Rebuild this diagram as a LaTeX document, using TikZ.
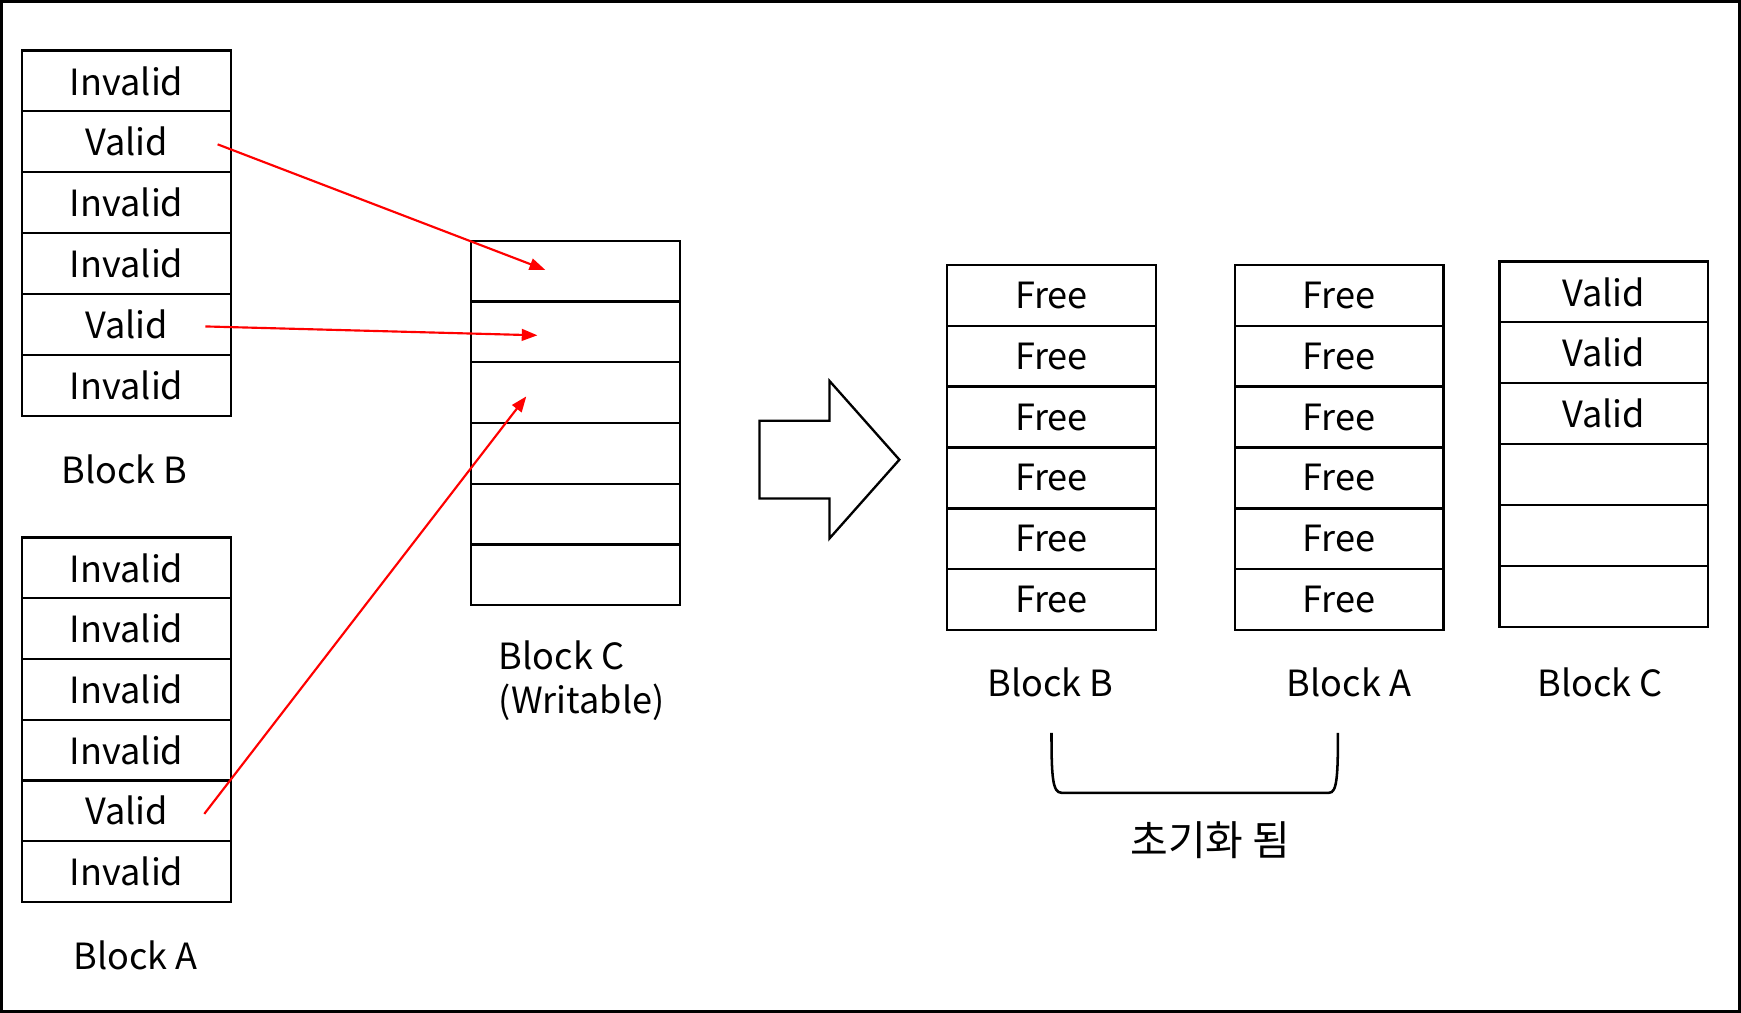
\documentclass[tikz,border=0pt]{standalone}
\usepackage{fontspec}
\setmainfont{Noto Sans CJK KR}
\usetikzlibrary{arrows.meta}
\begin{document}
\begin{tikzpicture}[x=0.02cm, y=-0.02cm, font=\fontsize{18.5}{22.5}\selectfont]
\tikzstyle{cell_style} = [rectangle, draw=black, line width=1.1pt, minimum width=3.76cm, minimum height=1.096cm, inner sep=0pt]
\tikzstyle{move_style} = [draw=red, line width=1.1pt, -{Triangle[length=8pt, width=6pt]}]
\tikzstyle{label_style} = [inner sep=0pt, align=left]

\useasboundingbox (0,0) rectangle (1568,912);
\draw[line width=1.5pt] (1.3,1.3) rectangle (1566.7,910.7);

% before: block B
\node[cell_style] (lb1) at (114,72.9) {Invalid};
\node[cell_style] (lb2) at (114,127.7) {Valid};
\node[cell_style] (lb3) at (114,182.5) {Invalid};
\node[cell_style] (lb4) at (114,237.3) {Invalid};
\node[cell_style] (lb5) at (114,292.1) {Valid};
\node[cell_style] (lb6) at (114,346.9) {Invalid};
\node[label_style] (lbl_lb) at (112,423) {Block B};

% before: block A
\node[cell_style] (la1) at (114,511.5) {Invalid};
\node[cell_style] (la2) at (114,566.2) {Invalid};
\node[cell_style] (la3) at (114,620.9) {Invalid};
\node[cell_style] (la4) at (114,675.5) {Invalid};
\node[cell_style] (la5) at (114,730.2) {Valid};
\node[cell_style] (la6) at (114,784.9) {Invalid};
\node[label_style] (lbl_la) at (122,860) {Block A};

% before: block C
\node[cell_style] (wc1) at (518.5,244.3) {};
\node[cell_style] (wc2) at (518.5,299.0) {};
\node[cell_style] (wc3) at (518.5,353.7) {};
\node[cell_style] (wc4) at (518.5,408.3) {};
\node[cell_style] (wc5) at (518.5,463.0) {};
\node[cell_style] (wc6) at (518.5,517.7) {};
\node[label_style, anchor=west] (lbl_wc) at (449,613) {Block C\\(Writable)};

% big arrow
\draw[line width=1.2pt] (684,379) -- (747,379) -- (747,343) -- (810,414) -- (747,485) -- (747,449) -- (684,449) -- cycle;

% after: block B
\node[cell_style] (rb1) at (947,265.9) {Free};
\node[cell_style] (rb2) at (947,320.7) {Free};
\node[cell_style] (rb3) at (947,375.6) {Free};
\node[cell_style] (rb4) at (947,430.4) {Free};
\node[cell_style] (rb5) at (947,485.3) {Free};
\node[cell_style] (rb6) at (947,540.1) {Free};
\node[label_style] (lbl_rb) at (946,615) {Block B};

% after: block A
\node[cell_style] (ra1) at (1206,265.9) {Free};
\node[cell_style] (ra2) at (1206,320.7) {Free};
\node[cell_style] (ra3) at (1206,375.6) {Free};
\node[cell_style] (ra4) at (1206,430.4) {Free};
\node[cell_style] (ra5) at (1206,485.3) {Free};
\node[cell_style] (ra6) at (1206,540.1) {Free};
\node[label_style] (lbl_ra) at (1215,615) {Block A};

% after: block C
\node[cell_style] (rc1) at (1444.5,262.9) {Valid};
\node[cell_style] (rc2) at (1444.5,317.7) {Valid};
\node[cell_style] (rc3) at (1444.5,372.6) {Valid};
\node[cell_style] (rc4) at (1444.5,427.4) {};
\node[cell_style] (rc5) at (1444.5,482.3) {};
\node[cell_style] (rc6) at (1444.5,537.1) {};
\node[label_style] (lbl_rc) at (1441,615) {Block C};

% bracket
\draw[line width=1.3pt] (947,660) .. controls (947,700) and (948,714) .. (956,714) -- (1197,714) .. controls (1204,714) and (1205,700) .. (1205,660);
\node[label_style, font=\fontsize{21}{25}\selectfont] (lbl_init) at (1090,757) {초기화 됨};

% moves of valid pages
\coordinate (s1) at (196,130);
\coordinate (t1) at (491,243);
\coordinate (s2) at (185,294);
\coordinate (t2) at (484,302);
\coordinate (s3) at (184,733);
\coordinate (t3) at (474,357);
\draw[move_style] (s1) -- (t1);
\draw[move_style] (s2) -- (t2);
\draw[move_style] (s3) -- (t3);
\end{tikzpicture}
\end{document}
